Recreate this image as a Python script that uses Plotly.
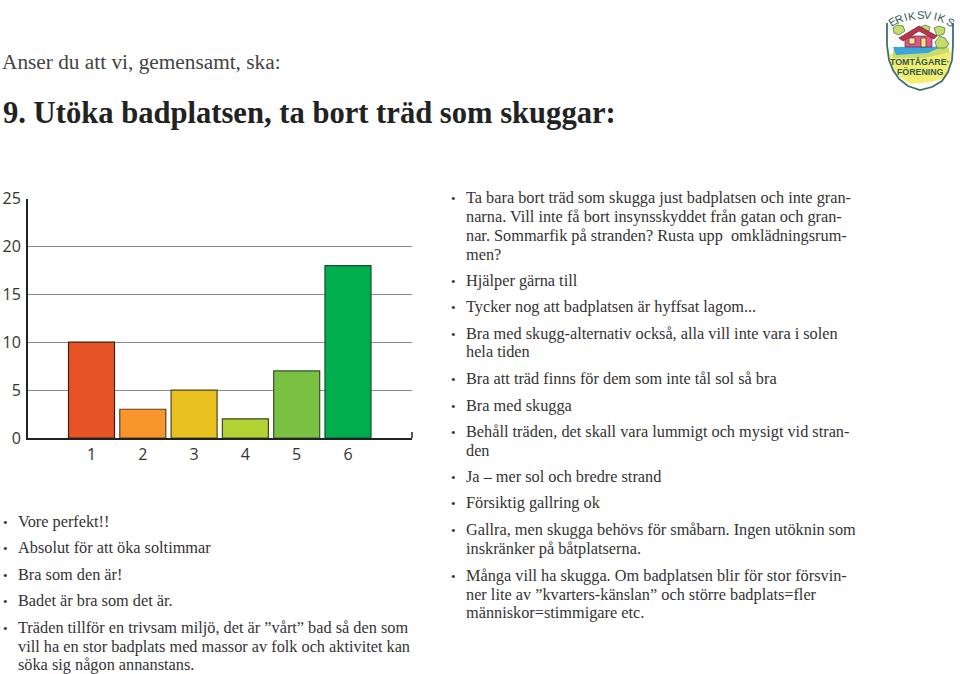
import plotly.graph_objects as go

W, H = 960, 674

categories = [1, 2, 3, 4, 5, 6]
values = [10, 3, 5, 2, 7, 18]
y_ticks = [0, 5, 10, 15, 20, 25]
bar_colors = ["#E65425", "#F8952B", "#E8C020", "#B2D235", "#7AC143", "#00AE4D"]
bar_edges = ["#3a2018", "#55402a", "#4f4622", "#3f4a24", "#30502c", "#184f2e"]

subtitle = "Anser du att vi, gemensamt, ska:"
title = "9. Utöka badplatsen, ta bort träd som skuggar:"

left_lines = [
    "Vore perfekt!!",
    "Absolut för att öka soltimmar",
    "Bra som den är!",
    "Badet är bra som det är.",
    "Träden tillför en trivsam miljö, det är ”vårt” bad så den som",
    "vill ha en stor badplats med massor av folk och aktivitet kan",
    "söka sig någon annanstans.",
]
right_lines = [
    "Ta bara bort träd som skugga just badplatsen och inte gran-",
    "narna. Vill inte få bort insynsskyddet från gatan och gran-",
    "nar. Sommarfik på stranden? Rusta upp  omklädningsrum-",
    "men?",
    "Hjälper gärna till",
    "Tycker nog att badplatsen är hyffsat lagom...",
    "Bra med skugg-alternativ också, alla vill inte vara i solen",
    "hela tiden",
    "Bra att träd finns för dem som inte tål sol så bra",
    "Bra med skugga",
    "Behåll träden, det skall vara lummigt och mysigt vid stran-",
    "den",
    "Ja – mer sol och bredre strand",
    "Försiktig gallring ok",
    "Gallra, men skugga behövs för småbarn. Ingen utöknin som",
    "inskränker på båtplatserna.",
    "Många vill ha skugga. Om badplatsen blir för stor försvin-",
    "ner lite av ”kvarters-känslan” och större badplats=fler",
    "människor=stimmigare etc.",
]

left_y = [521, 547.5, 574, 600.5, 627, 646, 664.5]
left_bullet = [True, True, True, True, True, False, False]
right_y = [197.5, 216.5, 235.5, 254, 280, 306, 333, 351.5, 378.5, 405, 431.5, 450.5, 476.5, 503, 529.5, 548.5, 575, 594, 612.5]
right_bullet = [True, False, False, False, True, True, True, False, True, True, True, False, True, True, True, False, True, False, False]

SERIF = "Liberation Serif"
INK = "#333333"
LOGO_INK = "#2c5a52"


def px(x):
    return x / W


def py(y):
    return 1 - y / H


def note(x, y, text, size, color=INK, family=SERIF, bold=False, anchor="left", angle=0):
    return dict(
        xref="paper", yref="paper", x=px(x), y=py(y), text=f"<b>{text}</b>" if bold else text,
        showarrow=False, xanchor=anchor, yanchor="middle", textangle=angle,
        font=dict(family=family, size=size, color=color), borderpad=0, borderwidth=0,
    )


def path(points, close=True):
    head = " ".join(
        ("M" if i == 0 else "L") + f"{px(x):.5f},{py(y):.5f}" for i, (x, y) in enumerate(points)
    )
    return head + (" Z" if close else "")


def shape(points, fill=None, line=None, width=1, close=True):
    return dict(
        type="path", xref="paper", yref="paper", path=path(points, close),
        fillcolor=fill if fill else "rgba(0,0,0,0)",
        line=dict(color=line if line else "rgba(0,0,0,0)", width=width if line else 0),
        layer="above",
    )


annotations = [
    note(2, 62, subtitle, 21.3, "#444444"),
    note(3, 113, title, 30.6, "#222222", bold=True),
]
for txt, y, b in zip(left_lines, left_y, left_bullet):
    annotations.append(note(18, y, txt, 16.3))
    if b:
        annotations.append(note(3, y + 1, "•", 13))
for txt, y, b in zip(right_lines, right_y, right_bullet):
    annotations.append(note(466, y, txt, 16.3))
    if b:
        annotations.append(note(451, y + 1, "•", 13))

# Föreningens märke
shield_edge = [(887, 23), (887, 45), (889, 60), (893, 70), (899, 79), (908, 86), (920, 90), (932, 87),
               (942, 81), (948, 72), (952, 60), (953, 45), (953, 23)]
yellow = [(889, 54), (951, 52), (950, 62), (947, 72), (942, 79), (930, 82), (912, 84), (901, 78), (893, 68)]
grass = [(893, 50), (930, 51), (947, 44), (950, 52), (925, 58), (893, 58)]
water = [(893, 47), (932, 47), (945, 45), (928, 53), (896, 55)]
tree_a = [(893, 28), (897, 25), (903, 26), (905, 31), (899, 35), (894, 33)]
tree_b = [(921, 27), (925, 25), (930, 27), (929, 31), (924, 32)]
tree_c = [(934, 28), (939, 26), (945, 28), (944, 34), (937, 36)]
tree_d = [(935, 42), (940, 36), (945, 38), (949, 44), (945, 48), (937, 48)]
wall = [(905, 36), (932, 36), (932, 47), (905, 47)]
roof = [(899, 38), (919, 26), (937, 36), (934, 39), (919, 31), (903, 41)]
window = [(909, 38), (915, 38), (915, 44), (909, 44)]
door = [(921, 38), (926, 38), (926, 47), (921, 47)]

shapes = [
    shape(shield_edge, "#ffffff", None, close=True),
    shape(yellow, "#f3ec6e"),
    shape(grass, "#c8dc70"),
    shape(water, "#39a6dc"),
    shape(tree_a, "#c3dc6c", "#3f6b33", 0.7),
    shape(tree_b, "#c3dc6c", "#3f6b33", 0.7),
    shape(tree_c, "#c3dc6c", "#3f6b33", 0.7),
    shape(tree_d, "#c3dc6c", "#3f6b33", 0.7),
    shape(wall, "#e5558a", "#5a2a33", 0.7),
    shape(roof, "#c0324a", "#5a2a33", 0.7),
    shape(window, "#f4e88a", "#4a3030", 0.7),
    shape(door, "#f4e88a", "#4a3030", 0.7),
    shape(shield_edge, None, "#3f6f66", 1.8, close=False),
    dict(type="line", xref="paper", yref="paper", x0=px(412), x1=px(412), y0=py(438), y1=py(432),
         line=dict(color="#222222", width=1.5)),
]

arc = [("E", 892, 22, -32), ("R", 899, 19, -24), ("I", 905, 17, -16), ("K", 912, 16, -10),
       ("S", 920, 15, -2), ("V", 928, 15, 6), ("I", 935, 16, 12), ("K", 942, 18, 20), ("S", 950, 22, 28)]
logo_notes = [note(x, y, ch, 11, LOGO_INK, "Liberation Sans", False, "center", a) for ch, x, y, a in arc]
logo_notes.append(note(919, 62, "TOMTÅGARE·", 8.8, LOGO_INK, "Liberation Sans", True, "center"))
logo_notes.append(note(920, 72, "FÖRENING", 8.8, LOGO_INK, "Liberation Sans", True, "center"))

fig = go.Figure(
    go.Bar(
        x=categories, y=values, width=0.897, marker=dict(color=bar_colors, line=dict(color=bar_edges, width=1.2)),
        showlegend=False, hoverinfo="skip",
    )
)
fig.update_layout(
    width=W, height=H, autosize=False,
    margin=dict(l=0, r=0, t=0, b=0, pad=0, autoexpand=False),
    paper_bgcolor="white", plot_bgcolor="white",
    annotations=annotations + logo_notes, shapes=shapes,
    xaxis=dict(
        domain=[px(28), px(412)], range=[-0.238, 7.248], tickmode="array", tickvals=categories,
        ticks="outside", ticklen=1, tickcolor="rgba(0,0,0,0)", showgrid=False, zeroline=False,
        showline=True, linecolor="#222222", linewidth=2,
        tickfont=dict(family="Open Sans", size=16, color="#333333"),
    ),
    yaxis=dict(
        domain=[py(438), py(198.5)], range=[0, 25], tickmode="array", tickvals=y_ticks,
        ticks="outside", ticklen=2, tickcolor="rgba(0,0,0,0)", showgrid=True, gridcolor="#8a8a8a", gridwidth=1,
        zeroline=False, showline=True, linecolor="#222222", linewidth=2,
        tickfont=dict(family="Open Sans", size=16, color="#333333"),
    ),
)
fig.write_html("out.html", config={"displayModeBar": False},
               post_script="document.body.style.margin='0';document.body.style.overflow='hidden';")
